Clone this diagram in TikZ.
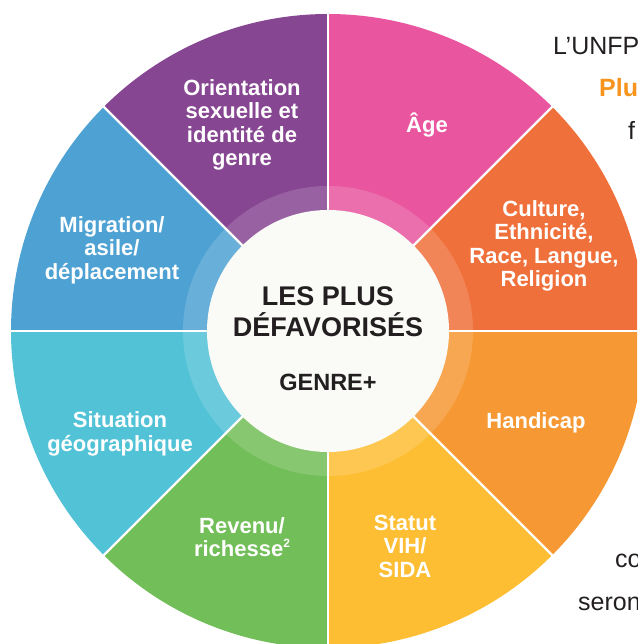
\documentclass[tikz,border=0pt]{standalone}
\usepackage{fontspec}
\setmainfont{Liberation Sans}
\definecolor{cultcol}{HTML}{F0703B}
\definecolor{agecol}{HTML}{E9569F}
\definecolor{oricol}{HTML}{874692}
\definecolor{migcol}{HTML}{4EA1D3}
\definecolor{geocol}{HTML}{52C3D6}
\definecolor{revcol}{HTML}{72BE58}
\definecolor{vihcol}{HTML}{FDBE34}
\definecolor{handcol}{HTML}{F69833}
\definecolor{hubcol}{HTML}{FAFAF7}
\definecolor{darktext}{HTML}{231F20}
\definecolor{plusorange}{HTML}{F7941D}
\tikzset{
  seglabel/.style={text=white, align=center, inner sep=0pt,
    font=\bfseries\fontsize{22}{23.5}\selectfont},
  sepline/.style={draw=white, line width=2.2pt},
  sidetext/.style={anchor=base west, inner sep=0pt, text=darktext,
    font=\fontsize{25}{30}\selectfont}
}

\begin{document}
\begin{tikzpicture}[x=1pt,y=1pt]
    \useasboundingbox (-328,-313) rectangle (309,331);
    \clip (-328,-313) rectangle (309,331);
    % draw coloured sectors
    \foreach \a/\c in {0/cultcol, 45/agecol, 90/oricol, 135/migcol,
                       180/geocol, 225/revcol, 270/vihcol, 315/handcol}
        \fill[\c] (0,0) -- (\a:317) arc[start angle=\a, end angle=\a+45, radius=317] -- cycle;
    % draw lighter ring
    \fill[white, opacity=0.15] (0,0) circle (145);
    % draw white separators
    \foreach \a in {0, 45, ..., 315}
        \draw[sepline] (\a:100) -- (\a:330);
    % draw centre disc
    \node[circle, fill=hubcol, inner sep=0pt, minimum size=242pt] (hub) at (0,0) {};

    \node[text=darktext, align=center, inner sep=0pt,
          font=\bfseries\fontsize{27}{31}\selectfont] (title) at (0,19)
        {LES PLUS\\DÉFAVORISÉS};
    \node[text=darktext, inner sep=0pt, font=\bfseries\fontsize{23.5}{26}\selectfont]
        (genre) at (0,-51) {GENRE+};

    % sector labels
    \node[seglabel] (orient) at (-86,206) {Orientation\\sexuelle et\\identité de\\genre};
    \node[seglabel] (age) at (99,206) {Âge};
    \node[seglabel] (culture) at (216,85) {Culture,\\Ethnicité,\\Race, Langue,\\Religion};
    \node[seglabel] (migration) at (-216,81) {Migration/\\asile/\\déplacement};
    \node[seglabel] (geo) at (-208,-103) {Situation\\géographique};
    \node[seglabel] (revenu) at (-86,-206)
        {Revenu/\\richesse\raisebox{0.42em}{\fontsize{12}{12}\selectfont 2}};
    \node[seglabel] (vih) at (77,-215) {Statut\\VIH/\\SIDA};
    \node[seglabel] (handicap) at (208,-92) {Handicap};

    % text running past the right edge
    \node[sidetext] (unfpa) at (225,276) {L’UNFP};
    \node[sidetext, text=plusorange, font=\bfseries\fontsize{25}{30}\selectfont]
        (plus) at (271,234) {Plu};
    \node[sidetext] (fline) at (300,191) {f};
    \node[sidetext] (coline) at (287,-236) {co};
    \node[sidetext] (seron) at (250,-279) {seron};
\end{tikzpicture}
\end{document}
